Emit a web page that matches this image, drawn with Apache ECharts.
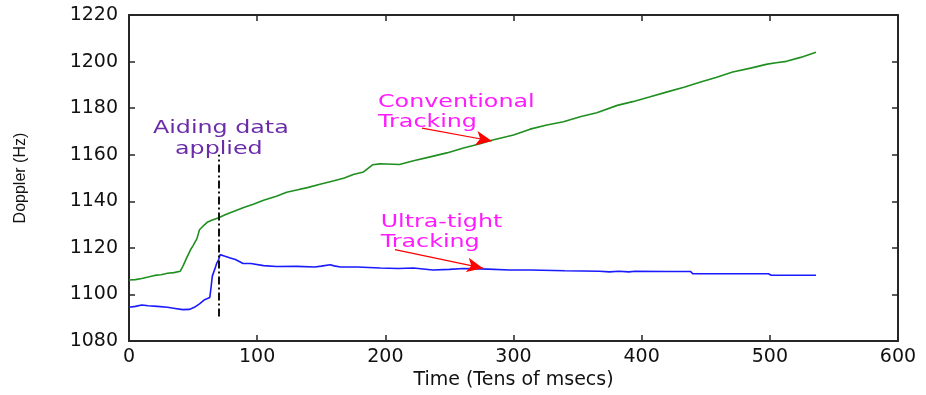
<!DOCTYPE html>
<html><head><meta charset="utf-8">
<script src="https://cdn.jsdelivr.net/npm/echarts@6/dist/echarts.min.js"></script>
<style>html,body{margin:0;padding:0;background:#fff}#c{width:926px;height:395px}</style>
</head><body><div id="c"></div>
<script>
// Conventional tracking (green)
const timeConv = [0, 5, 10, 15, 20, 25, 30, 35, 40, 42, 45, 48, 50, 53, 55, 58, 61, 65, 70, 75, 80, 85, 90, 97, 105, 115, 123, 130, 140, 149, 160, 168, 175, 183, 190, 196, 201, 211, 222, 235, 248, 261, 274, 283, 300, 313, 326, 339, 352, 365, 381, 393, 406, 420, 433, 446, 458, 471, 485, 498, 505, 513, 524, 536];
const dopplerConv = [1106.2, 1106.4, 1106.9, 1107.5, 1108.2, 1108.5, 1109.1, 1109.4, 1110.0, 1112.1, 1115.7, 1119.2, 1121.0, 1124.0, 1127.8, 1129.5, 1131.0, 1132.0, 1133.0, 1134.2, 1135.3, 1136.4, 1137.5, 1138.8, 1140.5, 1142.2, 1143.9, 1144.8, 1146.0, 1147.3, 1148.8, 1150.0, 1151.5, 1152.6, 1155.7, 1156.1, 1156.0, 1155.8, 1157.4, 1159.1, 1160.8, 1162.9, 1164.7, 1166.2, 1168.5, 1171.0, 1172.8, 1174.2, 1176.3, 1178.0, 1181.2, 1182.8, 1184.8, 1187.0, 1189.0, 1191.2, 1193.2, 1195.5, 1197.2, 1198.9, 1199.5, 1200.1, 1201.8, 1204.0];
// Ultra-tight tracking (blue)
const timeUltra = [0, 5, 10, 15, 22, 30, 36, 42, 47, 51, 55, 59, 63, 64, 65, 67, 68.5, 70, 71, 73, 75, 79, 83, 89, 95, 105, 115, 131, 145, 150, 157, 160, 165, 178, 196, 210, 222, 237, 250, 261, 280, 297, 313, 340, 367, 375, 382, 390, 395, 420, 438, 440, 470, 499, 501, 536];
const dopplerUltra = [1094.5, 1094.9, 1095.5, 1095.2, 1094.9, 1094.5, 1094.0, 1093.5, 1093.6, 1094.5, 1096.0, 1097.8, 1098.7, 1103.0, 1107.9, 1111.0, 1113.5, 1115.0, 1117.1, 1116.8, 1116.4, 1115.7, 1115.0, 1113.3, 1113.3, 1112.4, 1112.0, 1112.1, 1111.8, 1112.2, 1112.8, 1112.3, 1111.8, 1111.8, 1111.4, 1111.2, 1111.4, 1110.5, 1110.8, 1111.2, 1110.9, 1110.5, 1110.5, 1110.2, 1110.0, 1109.7, 1110.0, 1109.7, 1110.0, 1109.9, 1109.9, 1108.9, 1108.9, 1108.9, 1108.3, 1108.3];

// Annotations (data coordinates)
const aidingTime = 70;
const aidingRange = [1090.6, 1160];
const convArrow = [[228.6, 1171.4], [283.2, 1165.9]];
const ultraArrow = [[207.5, 1119.3], [276.2, 1111.3]];
const notes = [
  {text: 'Aiding data', at: [18.7, 1171.2], kind: 'aid'},
  {text: 'applied', at: [35.9, 1162.5], kind: 'aid'},
  {text: 'Conventional', at: [194.3, 1182.6], kind: 'trk'},
  {text: 'Tracking', at: [194.3, 1174.1], kind: 'trk'},
  {text: 'Ultra-tight', at: [196.4, 1131.2], kind: 'trk'},
  {text: 'Tracking', at: [196.4, 1122.3], kind: 'trk'}
];

const zip = (a, b) => a.map((v, i) => [v, b[i]]);
const chart = echarts.init(document.getElementById('c'), null, {renderer: 'canvas'});

const lineCol = '#262626';
function xAx(pos, main) {
  return {
    type: 'value', min: 0, max: 600, interval: 100, position: pos,
    axisLine: {show: true, onZero: false, lineStyle: {color: lineCol, width: 2}},
    axisTick: {show: true, inside: true, length: 6, lineStyle: {color: lineCol, width: 1.5}},
    axisLabel: {show: main, margin: 6, fontFamily: 'DejaVu Sans', fontSize: 19, color: '#111',
      formatter: v => String(v)},
    splitLine: {show: false},
    name: main ? 'Time (Tens of msecs)' : '', nameLocation: 'middle', nameGap: 26,
    nameTextStyle: {fontFamily: 'DejaVu Sans', fontSize: 19, color: '#111'}
  };
}
function yAx(pos, main) {
  return {
    type: 'value', min: 1080, max: 1220, interval: 20, position: pos,
    axisLine: {show: true, onZero: false, lineStyle: {color: lineCol, width: 2}},
    axisTick: {show: true, inside: true, length: 6, lineStyle: {color: lineCol, width: 1.5}},
    axisLabel: {show: main, margin: 11, fontFamily: 'DejaVu Sans', fontSize: 19, color: '#111',
      formatter: v => String(v)},
    splitLine: {show: false},
    name: main ? 'Doppler (Hz)' : '', nameLocation: 'middle', nameGap: 100,
    nameTextStyle: {fontFamily: 'Liberation Sans', fontSize: 16, color: '#111'}
  };
}

chart.setOption({
  animation: false,
  backgroundColor: '#fff',
  grid: {left: 129, right: 28, top: 15, bottom: 49},
  xAxis: [xAx('bottom', true), xAx('top', false)],
  yAxis: [yAx('left', true), yAx('right', false)],
  series: [
    {
      name: 'Conventional Tracking', type: 'line', xAxisIndex: 0, yAxisIndex: 0,
      data: zip(timeConv, dopplerConv), showSymbol: false, symbol: 'none',
      lineStyle: {color: '#1f8f1f', width: 1.6}, z: 3,
      markLine: {
        silent: true, animation: false, symbol: ['none', 'arrow'], symbolSize: [11, 16],
        label: {show: false},
        lineStyle: {color: '#ff0000', type: 'solid', width: 1.2},
        data: [[{coord: convArrow[0]}, {coord: convArrow[1]}]]
      }
    },
    {
      name: 'Ultra-tight Tracking', type: 'line', xAxisIndex: 0, yAxisIndex: 0,
      data: zip(timeUltra, dopplerUltra), showSymbol: false, symbol: 'none',
      lineStyle: {color: '#1a1aff', width: 1.6}, z: 3,
      markLine: {
        silent: true, animation: false, symbol: ['none', 'arrow'], symbolSize: [11, 16],
        label: {show: false},
        lineStyle: {color: '#ff0000', type: 'solid', width: 1.2},
        data: [
          [{coord: ultraArrow[0]}, {coord: ultraArrow[1]}],
          [{coord: [aidingTime, aidingRange[0]], symbol: 'none',
            lineStyle: {color: '#111', type: [8, 3, 2, 3], width: 2}},
           {coord: [aidingTime, aidingRange[1]], symbol: 'none'}]
        ]
      }
    }
  ]
});

const colors = {aid: '#6a2ca8', trk: '#ff1aff'};
chart.setOption({
  graphic: notes.map(n => {
    const p = chart.convertToPixel({gridIndex: 0}, n.at);
    return {
      type: 'text', x: p[0], y: p[1], scaleX: 1.32, z: 100, silent: true,
      style: {text: n.text, font: '18px "DejaVu Sans"', fill: colors[n.kind],
        textAlign: 'left', align: 'left', textVerticalAlign: 'middle', verticalAlign: 'middle'}
    };
  })
});
</script>
</body></html>
